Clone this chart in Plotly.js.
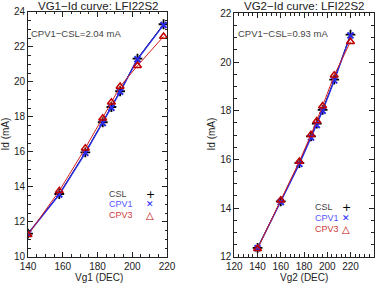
<!DOCTYPE html>
<html><head><meta charset="utf-8">
<script src="https://cdn.plot.ly/plotly-3.0.1.min.js"></script>
<style>body{margin:0;padding:0;background:#fff}#g{width:382px;height:283px}</style>
</head><body><div id="g"></div>
<script>
// Left panel: VG1 sweep
const vg1 = [140, 158, 173, 183, 188, 193, 203, 218];
const csl1 = [11.33, 13.60, 15.98, 17.70, 18.57, 19.47, 21.33, 23.30];
const cpv1_1 = [11.33, 13.57, 15.95, 17.66, 18.53, 19.44, 21.30, 23.26];
const cpv3_1 = [11.27, 13.78, 16.22, 17.93, 18.84, 19.74, 20.93, 22.60];
// Right panel: VG2 sweep
const vg2 = [140, 160, 176, 186, 191, 196, 206, 220];
const csl2 = [12.37, 14.28, 15.85, 16.95, 17.47, 18.04, 19.28, 21.13];
const cpv1_2 = [12.35, 14.25, 15.82, 16.90, 17.42, 18.00, 19.25, 21.10];
const cpv3_2 = [12.33, 14.32, 15.92, 17.02, 17.58, 18.20, 19.46, 20.84];

const titles = ["VG1\u2212Id curve: LFI22S2", "VG2\u2212Id curve: LFI22S2"];
const xTitles = ["Vg1 (DEC)", "Vg2 (DEC)"];
const notes = ["CPV1\u2212CSL=2.04 mA", "CPV1\u2212CSL=0.93 mA"];
const legendNames = ["CSL", "CPV1", "CPV3"];

const FONT = "Liberation Sans, Arial, sans-serif";
const BLUE = "#2a2ae6", RED = "#d42020", BLACK = "#000";

function series(x, y, xa, ya, color, lw, sym, msize, mcolor, mlw) {
  return {x: x, y: y, xaxis: xa, yaxis: ya, type: "scatter", mode: "lines+markers",
    line: {color: color, width: lw},
    marker: {symbol: sym, size: msize, color: mcolor, line: {color: mcolor, width: mlw}},
    showlegend: false, hoverinfo: "skip"};
}

const data = [
  series(vg1, csl1, "x", "y", BLACK, 1, "cross-thin-open", 7, BLACK, 1.8),
  series(vg1, cpv1_1, "x", "y", BLUE, 1.4, "x-thin-open", 6, BLUE, 2),
  series(vg1, cpv3_1, "x", "y", RED, 1, "triangle-up-open", 7, "#c00000", 1.5),
  series(vg2, csl2, "x2", "y2", BLACK, 1, "cross-thin-open", 7, BLACK, 1.8),
  series(vg2, cpv1_2, "x2", "y2", BLUE, 1.4, "x-thin-open", 6, BLUE, 2),
  series(vg2, cpv3_2, "x2", "y2", RED, 1, "triangle-up-open", 7, "#c00000", 1.5)
];

function ax(domain, range, dtick, minorDtick, anchor) {
  return {domain: domain, range: range, dtick: dtick, tick0: range[0], anchor: anchor,
    showgrid: false, zeroline: false, showline: true, linecolor: "#222", linewidth: 1,
    mirror: "allticks", ticks: "inside", ticklen: 5, tickcolor: "#222", tickwidth: 1,
    tickfont: {family: FONT, size: 10, color: "#222"},
    minor: {dtick: minorDtick, ticks: "inside", ticklen: 2.5, tickcolor: "#222", tickwidth: 1, showgrid: false}};
}

const ann = [];
const panels = [
  {xc: 0.258, xl: 0.076, title: titles[0], xt: xTitles[0], note: notes[0], yt: 5, legX: 0.282, symX: 0.393, legY: [0.316, 0.278, 0.241]},
  {xc: 0.796, xl: 0.618, title: titles[1], xt: xTitles[1], note: notes[1], yt: 211, legX: 0.823, symX: 0.906, legY: [0.267, 0.229, 0.192]}
];
panels.forEach((p, i) => {
  ann.push({text: p.title, xref: "paper", yref: "paper", x: p.xc, y: 1 - 5.5 / 283, xanchor: "center", yanchor: "middle", showarrow: false,
    font: {family: FONT, size: 11.5, color: "#222"}});
  ann.push({text: p.xt, xref: "paper", yref: "paper", x: p.xc, y: 6 / 283, xanchor: "center", yanchor: "middle", showarrow: false,
    font: {family: FONT, size: 10, color: "#222"}});
  ann.push({text: "Id (mA)", xref: "paper", yref: "paper", x: p.yt / 382, y: 0.525, xanchor: "center", yanchor: "middle", textangle: -90, showarrow: false,
    font: {family: FONT, size: 10, color: "#222"}});
  ann.push({text: p.note, xref: "paper", yref: "paper", x: p.xl, y: 0.883, xanchor: "left", yanchor: "middle", showarrow: false,
    font: {family: FONT, size: 9.5, color: "#444"}});
  const lc = ["#444", "#5555ff", "#d03a3a"];
  const sym = ["+", "\u2715", "\u25B3"];
  const sc = [BLACK, "#1a1aff", "#c00000"];
  const ss = [11, 9, 10];
  legendNames.forEach((n, k) => {
    ann.push({text: n, xref: "paper", yref: "paper", x: p.legX, y: p.legY[k], xanchor: "left", yanchor: "middle", showarrow: false,
      height: 10, borderpad: 0, font: {family: FONT, size: 9, color: lc[k]}});
    ann.push({text: sym[k], xref: "paper", yref: "paper", x: p.symX, y: p.legY[k], xanchor: "center", yanchor: "middle", showarrow: false,
      height: 10, borderpad: 0, font: {family: "DejaVu Sans, sans-serif", size: ss[k], color: sc[k]}});
  });
});

const layout = {
  width: 382, height: 283, margin: {l: 0, r: 0, t: 0, b: 0},
  paper_bgcolor: "#fff", plot_bgcolor: "#fff", showlegend: false,
  xaxis: ax([0.0733, 0.4372], [140, 220], 20, 5, "y"),
  yaxis: ax([0.0919, 0.9576], [10, 24], 2, 0.5, "x"),
  xaxis2: ax([0.6134, 0.9783], [120, 240], 20, 4, "y2"),
  yaxis2: ax([0.0926, 0.9523], [12, 22], 2, 0.5, "x2"),
  annotations: ann
};
Plotly.newPlot("g", data, layout, {staticPlot: true, displayModeBar: false});
</script></body></html>
